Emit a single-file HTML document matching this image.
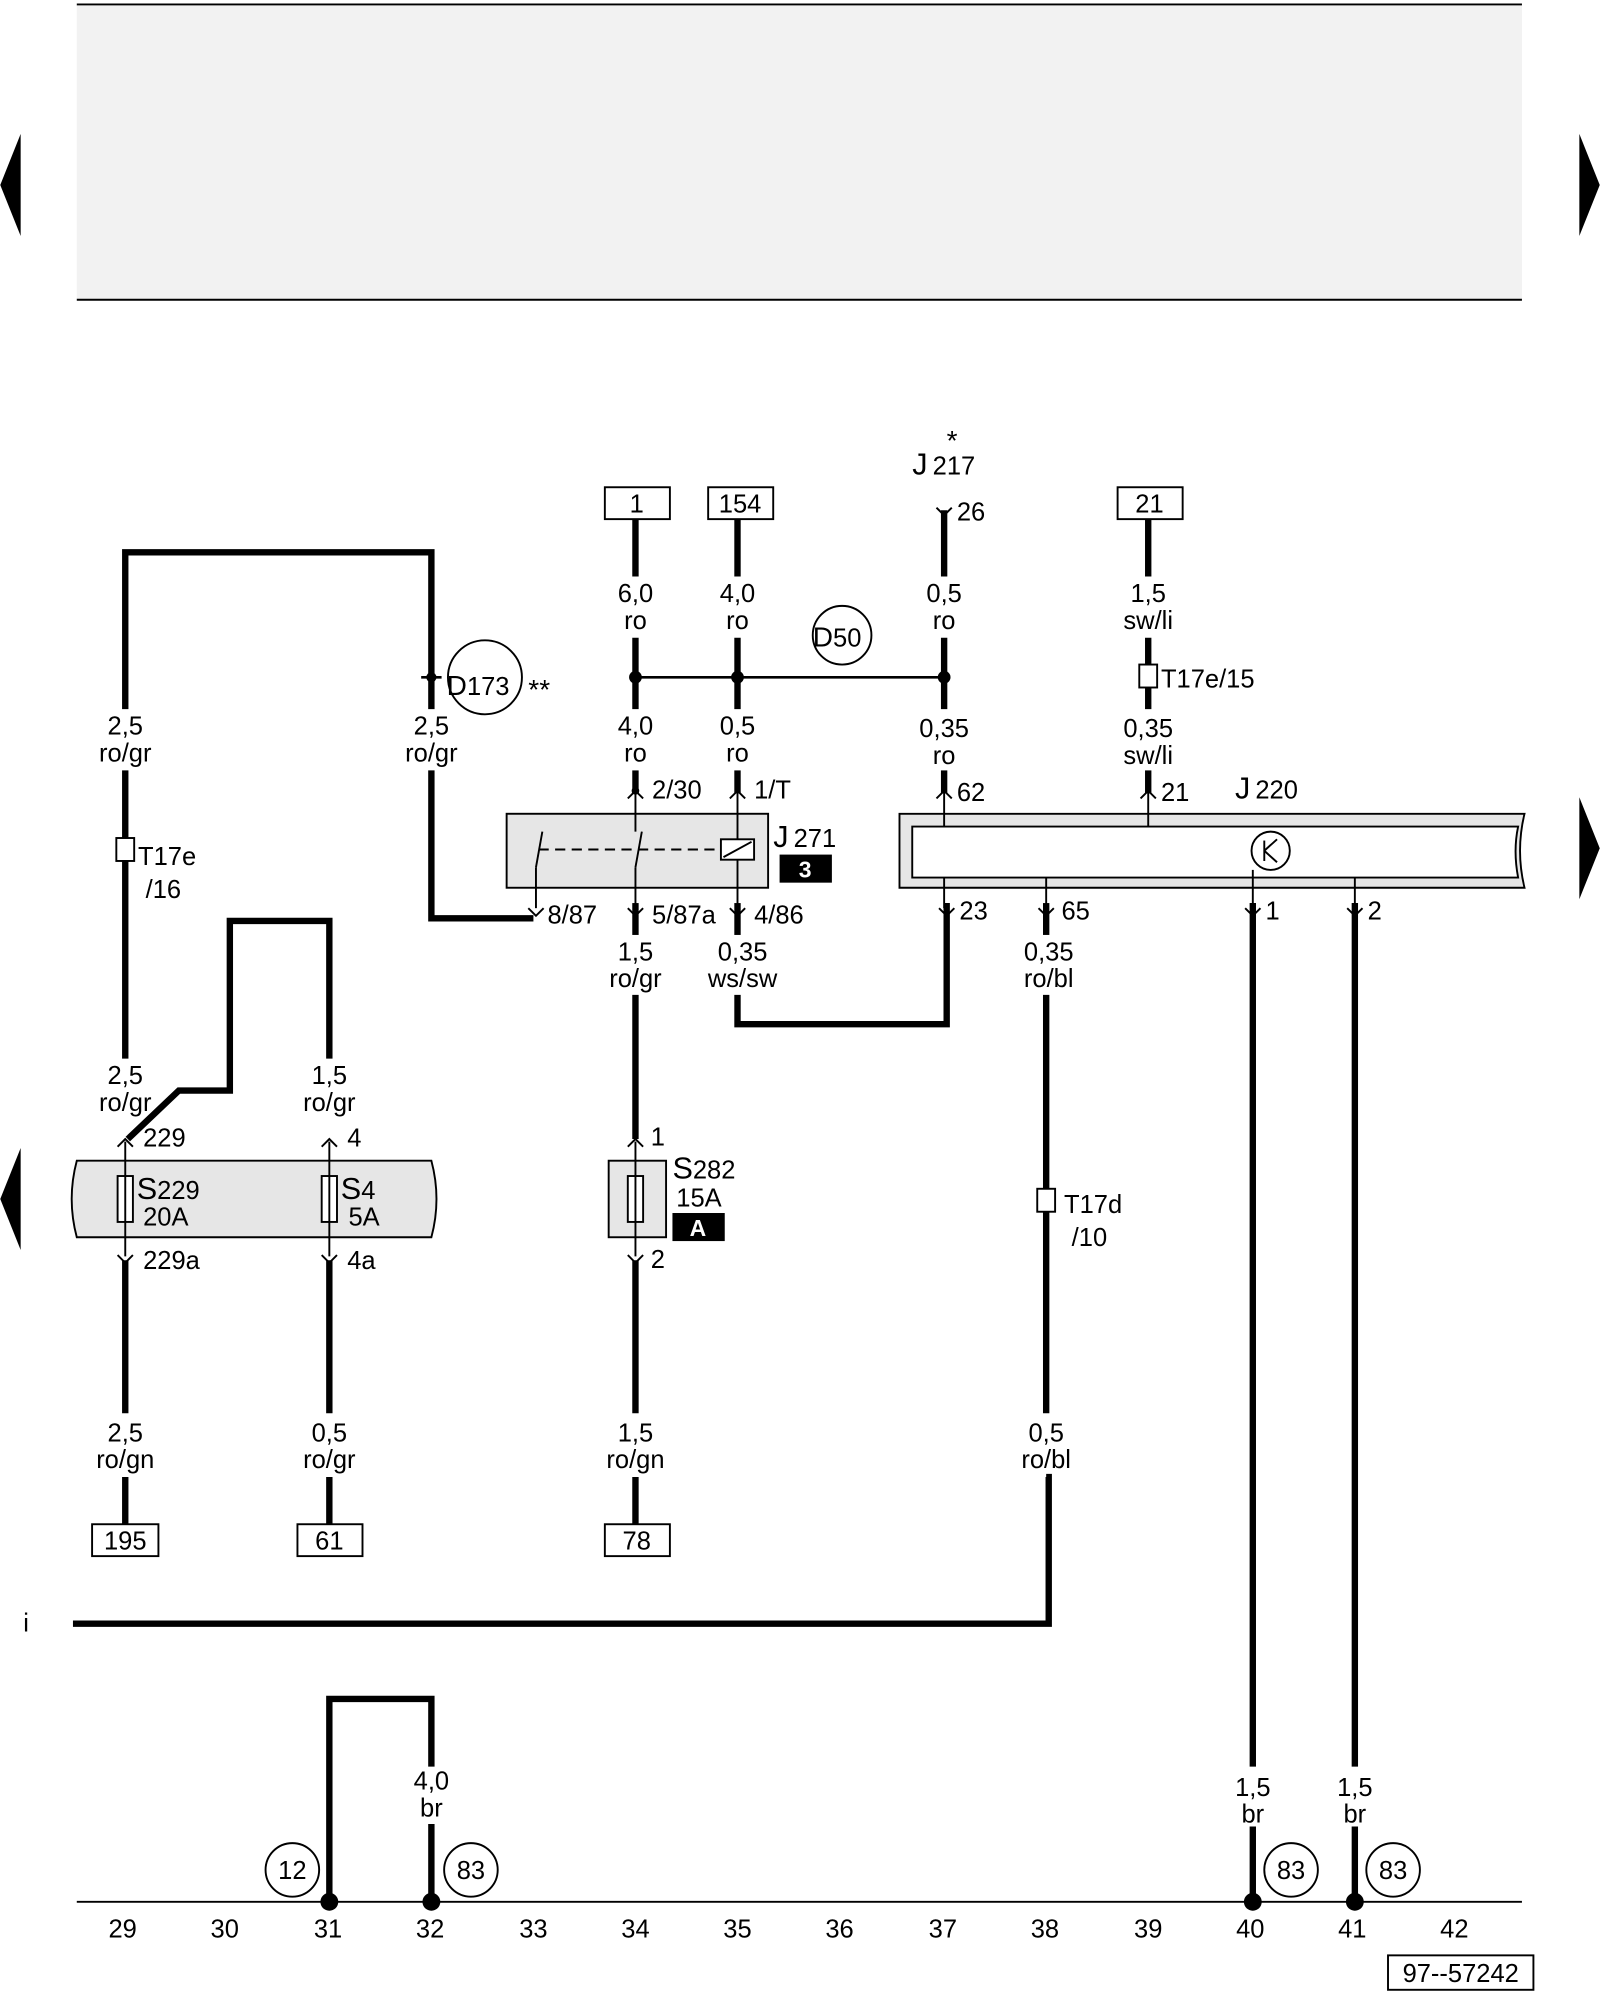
<!DOCTYPE html>
<html><head><meta charset="utf-8"><style>
html,body{margin:0;padding:0;background:#fff}
svg{display:block}
text{font-family:"Liberation Sans",Arial,sans-serif;fill:#000}
</style></head><body>
<svg width="1600" height="2000" viewBox="0 0 1254 1568" xmlns="http://www.w3.org/2000/svg">
<rect x="60" y="4" width="1133" height="231" fill="#f2f2f2"/>
<line x1="60" y1="3.5" x2="1193" y2="3.5" stroke="#000" stroke-width="1.5"/>
<line x1="60" y1="235" x2="1193" y2="235" stroke="#000" stroke-width="1.5"/>
<polygon points="16,105 16,185 0,145" fill="#000"/>
<polygon points="1238,105 1238,185 1254,145" fill="#000"/>
<polygon points="1238,625 1238,705 1254,665" fill="#000"/>
<polygon points="16,900 16,980 0,940" fill="#000"/>

<g stroke="#000" stroke-width="5" fill="none" stroke-linejoin="miter">
<polyline points="98,556 98,433 338,433 338,556"/>
<polyline points="338,604 338,720 418,720"/>
<line x1="98" y1="604" x2="98" y2="830"/>
<polyline points="258,830 258,722 180,722 180,855 140,855 100,893"/>
<line x1="98" y1="988" x2="98" y2="1108"/>
<line x1="258" y1="988" x2="258" y2="1108"/>
<line x1="98" y1="1158" x2="98" y2="1195"/>
<line x1="258" y1="1158" x2="258" y2="1195"/>
<line x1="498" y1="407" x2="498" y2="452"/>
<line x1="498" y1="500" x2="498" y2="556"/>
<line x1="498" y1="604" x2="498" y2="622"/>
<line x1="498" y1="708" x2="498" y2="733"/>
<line x1="498" y1="780" x2="498" y2="893"/>
<line x1="498" y1="988" x2="498" y2="1108"/>
<line x1="498" y1="1158" x2="498" y2="1195"/>
<line x1="578" y1="407" x2="578" y2="452"/>
<line x1="578" y1="500" x2="578" y2="556"/>
<line x1="578" y1="604" x2="578" y2="622"/>
<polyline points="578,780 578,803 742,803 742,708"/>
<line x1="578" y1="708" x2="578" y2="733"/>
<line x1="740" y1="400" x2="740" y2="452"/>
<line x1="740" y1="500" x2="740" y2="556"/>
<line x1="740" y1="604" x2="740" y2="622"/>
<line x1="820" y1="708" x2="820" y2="733"/>
<line x1="820" y1="780" x2="820" y2="1108"/>
<polyline points="820,1158 822,1158 822,1273 57,1273"/>
<line x1="900" y1="407" x2="900" y2="452"/>
<line x1="900" y1="500" x2="900" y2="556"/>
<line x1="900" y1="604" x2="900" y2="622"/>
<line x1="982" y1="708" x2="982" y2="1385"/>
<line x1="982" y1="1432" x2="982" y2="1491"/>
<line x1="1062" y1="708" x2="1062" y2="1385"/>
<line x1="1062" y1="1432" x2="1062" y2="1491"/>
<polyline points="258,1491 258,1332 338,1332 338,1385"/>
<line x1="338" y1="1430" x2="338" y2="1491"/>
</g>
<!-- pin chevrons -->
<g stroke="#000" stroke-width="1.5" fill="none">
<path d="M734,398 L740,404 L746,398"/>
<path d="M492,626 L498,620 L504,626"/><path d="M572,626 L578,620 L584,626"/>
<path d="M734,626 L740,620 L746,626"/><path d="M894,626 L900,620 L906,626"/>
<path d="M414,712 L420,718 L426,712"/><path d="M492,712 L498,718 L504,712"/><path d="M572,712 L578,718 L584,712"/>
<path d="M736,712 L742,718 L748,712"/><path d="M814,712 L820,718 L826,712"/>
<path d="M976,712 L982,718 L988,712"/><path d="M1056,712 L1062,718 L1068,712"/>
<path d="M92,899 L98,893 L104,899"/><path d="M252,899 L258,893 L264,899"/><path d="M492,899 L498,893 L504,899"/>
<path d="M92,984 L98,990 L104,984"/><path d="M252,984 L258,990 L264,984"/><path d="M492,984 L498,990 L504,984"/>
</g>
<line x1="498" y1="531" x2="740" y2="531" stroke="#000" stroke-width="2"/>
<circle cx="498" cy="531" r="5"/><circle cx="578" cy="531" r="5"/><circle cx="740" cy="531" r="5"/>
<circle cx="338" cy="531" r="4"/>
<line x1="330" y1="531" x2="346" y2="531" stroke="#000" stroke-width="2"/>
<line x1="60" y1="1491" x2="1193" y2="1491" stroke="#000" stroke-width="1.5"/>
<circle cx="258" cy="1491" r="7"/><circle cx="338" cy="1491" r="7"/>
<circle cx="982" cy="1491" r="7"/><circle cx="1062" cy="1491" r="7"/>

<g stroke="#000" stroke-width="1.5" fill="#fff">
<rect x="474" y="382" width="51" height="25"/>
<rect x="555" y="382" width="51" height="25"/>
<rect x="876" y="382" width="51" height="25"/>
<rect x="72" y="1195" width="52" height="25"/>
<rect x="233" y="1195" width="51" height="25"/>
<rect x="474" y="1195" width="51" height="25"/>
<rect x="1088" y="1533" width="114" height="27"/>
</g>
<g font-size="20" text-anchor="middle">
<text x="499" y="402">1</text><text x="580" y="402">154</text><text x="901" y="402">21</text>
<text x="98" y="1215">195</text><text x="258" y="1215">61</text><text x="499" y="1215">78</text>
<text x="1145" y="1554">97--57242</text>
</g>

<path d="M60,910 H338 Q346,940 338,970 H60 Q52,940 60,910 Z" fill="#e6e6e6" stroke="#000" stroke-width="1.5"/>
<rect x="92" y="922" width="12" height="36" fill="#fff" stroke="#000" stroke-width="1.5"/>
<rect x="252" y="922" width="12" height="36" fill="#fff" stroke="#000" stroke-width="1.5"/>
<line x1="98" y1="895" x2="98" y2="985" stroke="#000" stroke-width="1.5"/>
<line x1="258" y1="895" x2="258" y2="985" stroke="#000" stroke-width="1.5"/>
<rect x="477" y="910" width="45" height="60" fill="#e6e6e6" stroke="#000" stroke-width="1.5"/>
<rect x="492" y="922" width="12" height="36" fill="#fff" stroke="#000" stroke-width="1.5"/>
<line x1="498" y1="895" x2="498" y2="985" stroke="#000" stroke-width="1.5"/>
<rect x="527" y="951" width="41" height="22" fill="#000"/>
<text x="547" y="969" font-size="18" text-anchor="middle" font-weight="bold" style="fill:#fff">A</text>

<rect x="397" y="638" width="205" height="58" fill="#e6e6e6" stroke="#000" stroke-width="1.5"/>
<g stroke="#000" stroke-width="1.5" fill="none">
<line x1="420" y1="696" x2="420" y2="680"/><line x1="420" y1="680" x2="425" y2="652"/>
<line x1="498" y1="620" x2="498" y2="652"/><line x1="498" y1="696" x2="498" y2="680"/><line x1="498" y1="680" x2="503" y2="652"/>
<line x1="422" y1="666" x2="565" y2="666" stroke-dasharray="8,5"/>
<rect x="565" y="658" width="26" height="16" fill="#fff"/>
<line x1="567" y1="672" x2="589" y2="660"/>
<line x1="578" y1="620" x2="578" y2="658"/><line x1="578" y1="674" x2="578" y2="696"/>
<line x1="420" y1="696" x2="420" y2="712"/><line x1="498" y1="696" x2="498" y2="712"/><line x1="578" y1="696" x2="578" y2="712"/>
</g>
<circle cx="498" cy="620" r="3"/>
<rect x="611" y="670" width="41" height="22" fill="#000"/>
<text x="631" y="688" font-size="18" text-anchor="middle" font-weight="bold" style="fill:#fff">3</text>

<path d="M705,638 H1195 Q1188,667 1195,696 H705 Z" fill="#e6e6e6" stroke="#000" stroke-width="1.5"/>
<path d="M715,648 H1190 Q1186,667 1190,688 H715 Z" fill="#fff" stroke="#000" stroke-width="1.5"/>
<g stroke="#000" stroke-width="1.5" fill="none">
<line x1="740" y1="620" x2="740" y2="648"/><line x1="900" y1="620" x2="900" y2="648"/>
<line x1="740" y1="688" x2="740" y2="712"/><line x1="820" y1="688" x2="820" y2="712"/>
<line x1="982" y1="682" x2="982" y2="712"/><line x1="1062" y1="688" x2="1062" y2="712"/>
<circle cx="996" cy="667" r="15"/>
<line x1="991" y1="659" x2="991" y2="675"/><line x1="991" y1="667" x2="1001" y2="658"/><line x1="991" y1="667" x2="1001" y2="676"/>
</g>

<g stroke="#000" stroke-width="1.5" fill="#fff">
<rect x="91" y="657" width="14" height="18"/>
<rect x="893" y="521" width="14" height="18"/>
<rect x="813" y="932" width="14" height="18"/>
</g>
<g stroke="#000" stroke-width="1.5" fill="none">
<circle cx="380" cy="531" r="29"/>
<circle cx="660" cy="498" r="23"/>
<circle cx="229" cy="1466" r="21"/><circle cx="369" cy="1466" r="21"/>
<circle cx="1012" cy="1466" r="21"/><circle cx="1092" cy="1466" r="21"/>
</g>
<g font-size="20" text-anchor="middle">
<text x="229" y="1473">12</text><text x="369" y="1473">83</text>
<text x="1012" y="1473">83</text><text x="1092" y="1473">83</text>
</g>

<g font-size="20" text-anchor="middle">
<text x="98" y="576">2,5</text><text x="98" y="597">ro/gr</text>
<text x="338" y="576">2,5</text><text x="338" y="597">ro/gr</text>
<text x="498" y="472">6,0</text><text x="498" y="493">ro</text>
<text x="578" y="472">4,0</text><text x="578" y="493">ro</text>
<text x="740" y="472">0,5</text><text x="740" y="493">ro</text>
<text x="900" y="472">1,5</text><text x="900" y="493">sw/li</text>
<text x="498" y="576">4,0</text><text x="498" y="597">ro</text>
<text x="578" y="576">0,5</text><text x="578" y="597">ro</text>
<text x="740" y="578">0,35</text><text x="740" y="599">ro</text>
<text x="900" y="578">0,35</text><text x="900" y="599">sw/li</text>
<text x="498" y="753">1,5</text><text x="498" y="774">ro/gr</text>
<text x="582" y="753">0,35</text><text x="582" y="774">ws/sw</text>
<text x="822" y="753">0,35</text><text x="822" y="774">ro/bl</text>
<text x="98" y="850">2,5</text><text x="98" y="871">ro/gr</text>
<text x="258" y="850">1,5</text><text x="258" y="871">ro/gr</text>
<text x="98" y="1130">2,5</text><text x="98" y="1151">ro/gn</text>
<text x="258" y="1130">0,5</text><text x="258" y="1151">ro/gr</text>
<text x="498" y="1130">1,5</text><text x="498" y="1151">ro/gn</text>
<text x="820" y="1130">0,5</text><text x="820" y="1151">ro/bl</text>
<text x="338" y="1403">4,0</text><text x="338" y="1424">br</text>
<text x="982" y="1408">1,5</text><text x="982" y="1429">br</text>
<text x="1062" y="1408">1,5</text><text x="1062" y="1429">br</text>
</g>
<g font-size="20">
<text x="750" y="408">26</text>
<text x="511" y="626">2/30</text><text x="591" y="626">1/T</text>
<text x="750" y="628">62</text><text x="910" y="628">21</text>
<text x="429" y="724">8/87</text><text x="511" y="724">5/87a</text><text x="591" y="724">4/86</text>
<text x="752" y="721">23</text><text x="832" y="721">65</text>
<text x="992" y="721">1</text><text x="1072" y="721">2</text>
<text x="112" y="899">229</text><text x="272" y="899">4</text>
<text x="112" y="995">229a</text><text x="272" y="995">4a</text>
<text x="510" y="898">1</text><text x="510" y="994">2</text>
<text x="18" y="1279">i</text>
<text x="108" y="678">T17e</text><text x="114" y="704">/16</text>
<text x="910" y="539">T17e/15</text>
<text x="834" y="951">T17d</text><text x="840" y="977">/10</text>
</g>
<text x="350" y="545" font-size="22">D<tspan font-size="20">173</tspan></text>
<text x="414" y="548" font-size="22">**</text>
<text x="637" y="507" font-size="22">D<tspan font-size="20">50</tspan></text>
<text x="715" y="372" font-size="24">J<tspan font-size="20" dx="4">217</tspan></text>
<text x="742" y="353" font-size="22">*</text>
<text x="606" y="664" font-size="24">J<tspan font-size="20" dx="4">271</tspan></text>
<text x="968" y="626" font-size="24">J<tspan font-size="20" dx="4">220</tspan></text>
<text x="107" y="940" font-size="24">S<tspan font-size="20">229</tspan></text>
<text x="112" y="961" font-size="20">20A</text>
<text x="267" y="940" font-size="24">S<tspan font-size="20">4</tspan></text>
<text x="273" y="961" font-size="20">5A</text>
<text x="527" y="924" font-size="24">S<tspan font-size="20">282</tspan></text>
<text x="530" y="946" font-size="20">15A</text>

<g font-size="20" text-anchor="middle">
<text x="96" y="1519">29</text><text x="176" y="1519">30</text><text x="257" y="1519">31</text>
<text x="337" y="1519">32</text><text x="418" y="1519">33</text><text x="498" y="1519">34</text>
<text x="578" y="1519">35</text><text x="658" y="1519">36</text><text x="739" y="1519">37</text>
<text x="819" y="1519">38</text><text x="900" y="1519">39</text><text x="980" y="1519">40</text>
<text x="1060" y="1519">41</text><text x="1140" y="1519">42</text>
</g>
</svg>
</body></html>
